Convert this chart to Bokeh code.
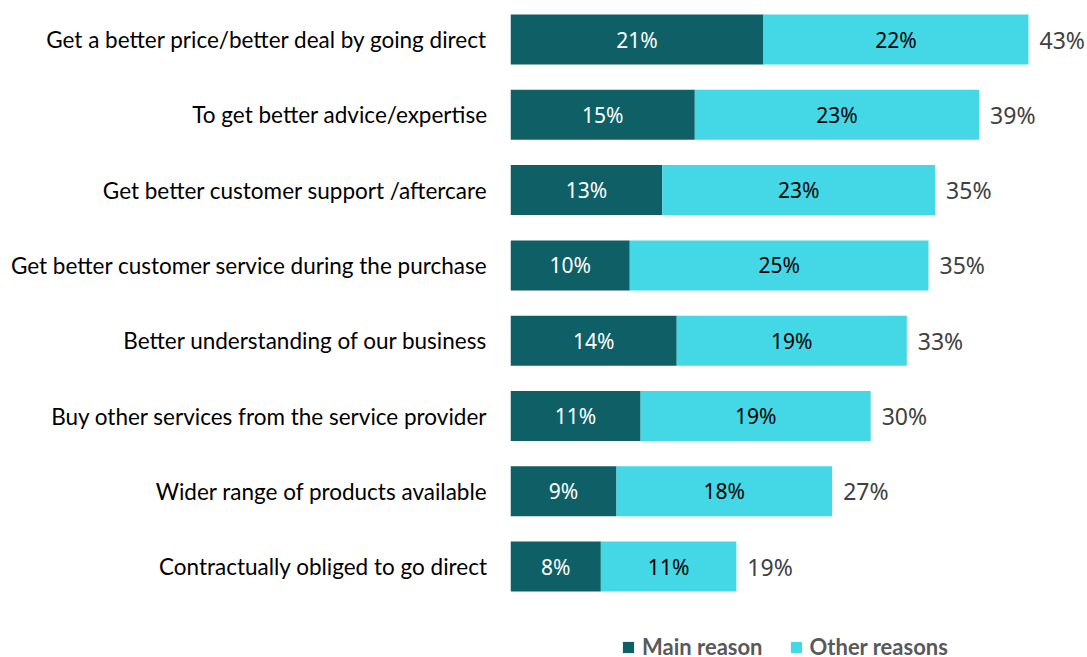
from bokeh.plotting import figure
from bokeh.models import ColumnDataSource, Range1d, Legend, FixedTicker
from bokeh.core.properties import value
from bokeh.embed import file_html
from bokeh.resources import INLINE

categories = [
    "Get a better price/better deal by going direct",
    "To get better advice/expertise",
    "Get better customer support /aftercare",
    "Get better customer service during the purchase",
    "Better understanding of our business",
    "Buy other services from the service provider",
    "Wider range of products available",
    "Contractually obliged to go direct",
]
main_reason = [21.0, 15.3, 12.6, 9.9, 13.8, 10.8, 8.8, 7.5]
other_reasons = [22.0, 23.6, 22.65, 24.8, 19.1, 19.1, 17.9, 11.25]
main_labels = ["21%", "15%", "13%", "10%", "14%", "11%", "9%", "8%"]
other_labels = ["22%", "23%", "23%", "25%", "19%", "19%", "18%", "11%"]
total_labels = ["43%", "39%", "35%", "35%", "33%", "30%", "27%", "19%"]

DARK = "#0F5F66"
CYAN = "#44D7E6"

pos = list(range(len(categories)))

src = ColumnDataSource(dict(
    y=pos,
    main=main_reason,
    other=other_reasons,
    main_mid=[m / 2 for m in main_reason],
    other_mid=[m + o / 2 for m, o in zip(main_reason, other_reasons)],
    total=[m + o for m, o in zip(main_reason, other_reasons)],
    main_lbl=main_labels,
    other_lbl=other_labels,
    total_lbl=total_labels,
))

p = figure(frame_width=577, frame_height=657, y_range=Range1d(8.207, -0.518),
           x_range=Range1d(0, 47.9),
           output_backend="svg", toolbar_location=None,
           min_border_left=510, min_border_right=0, min_border_top=0,
           min_border_bottom=0)
p.outline_line_color = None
p.grid.grid_line_color = None
p.xaxis.visible = False
p.yaxis.ticker = FixedTicker(ticks=pos)
p.yaxis.major_label_overrides = {i: c for i, c in zip(pos, categories)}
p.yaxis.axis_line_color = None
p.yaxis.major_tick_line_color = None
p.yaxis.minor_tick_line_color = None
p.yaxis.major_tick_out = 0
p.yaxis.major_label_standoff = 23
p.yaxis.major_label_text_font = "Lato"
p.yaxis.major_label_text_font_size = "22.5px"
p.yaxis.major_label_text_color = "#000000"

r = p.hbar_stack(["main", "other"], y="y", height=0.664, color=[DARK, CYAN],
                 line_color=None, source=src)

p.text(x="main_mid", y="y", text="main_lbl", source=src, text_align="center",
       text_baseline="middle", text_color="#FFFFFF", text_font=value("Noto Sans"),
       text_font_size="21px")
p.text(x="other_mid", y="y", text="other_lbl", source=src, text_align="center",
       text_baseline="middle", text_color="#000000", text_font=value("Noto Sans"),
       text_font_size="21px")
p.text(x="total", y="y", text="total_lbl", source=src, text_align="left",
       text_baseline="middle", x_offset=11, text_color="#404040",
       text_font=value("Noto Sans"), text_font_size="23px")

legend = Legend(items=[("Main reason", [r[0]]), ("Other reasons", [r[1]])],
                orientation="horizontal", location=(111, -3),
                label_text_font="Lato", label_text_font_size="22px",
                label_text_font_style="bold", label_text_color="#595959",
                glyph_width=14, glyph_height=14, spacing=26, padding=0,
                label_standoff=7, border_line_color=None, background_fill_alpha=0,
                margin=0)
p.add_layout(legend, "center")

open("out.html", "w").write(file_html(p, INLINE))
